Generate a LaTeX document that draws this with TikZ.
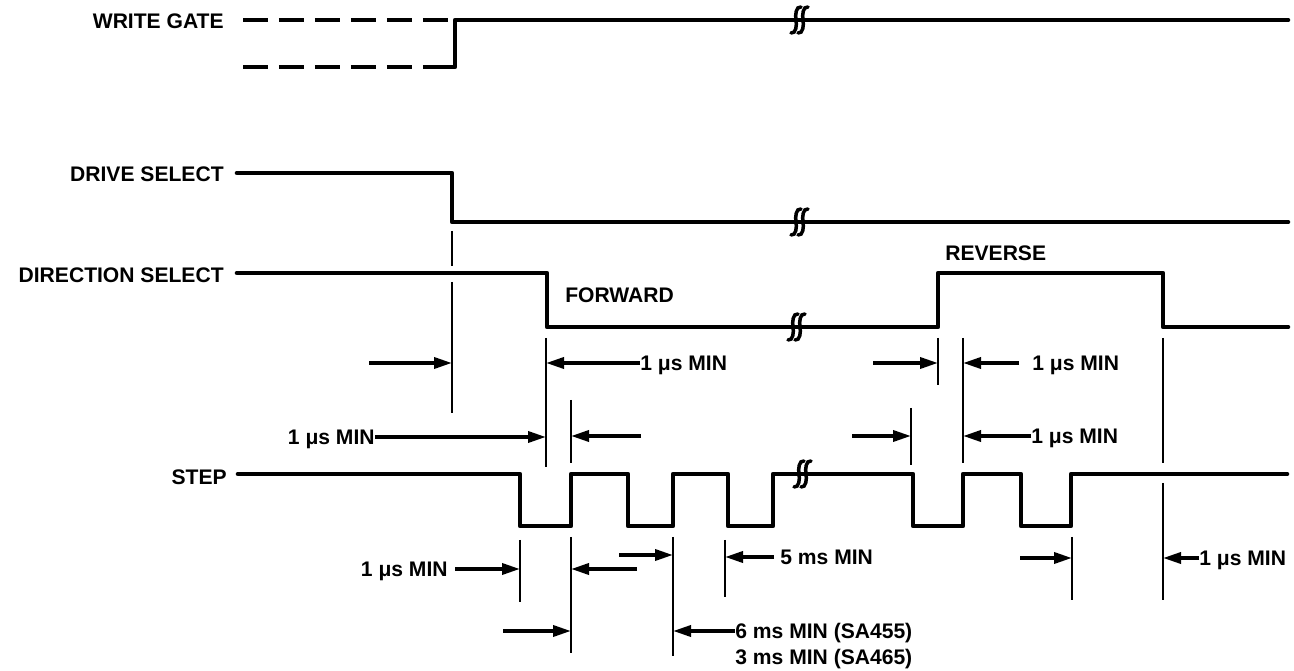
\documentclass[tikz,border=0pt]{standalone}
\usepackage{fontspec}
\setmainfont{Liberation Sans}
\usetikzlibrary{arrows.meta, positioning, calc}

\begin{document}
\begin{tikzpicture}[
		x=0.02cm, y=-0.02cm,
		font=\fontsize{12}{14}\selectfont\bfseries,
		wave/.style={line width=2.6pt, line join=round, line cap=round},
		wgdash/.style={line width=2.6pt, dash pattern=on 0.5cm off 0.22cm},
		refline/.style={line width=1.2pt},
		dim/.style={line width=2pt, -{Triangle[length=3.6mm, width=2.2mm]}},
		lbl/.style={inner sep=0pt, text height=8.6pt, text depth=0pt},
		sigbreak/.pic={
			\draw[line width=2pt, line cap=round] (1,-13) .. controls (-4,-14) and (-5,-5) .. (-4,0) .. controls (-3,5) and (-4,14) .. (-9,13);
			\draw[line width=2pt, line cap=round] (8,-13) .. controls (3,-14) and (2,-5) .. (3,0) .. controls (4,5) and (3,14) .. (-2,13);
		}
		]
		\useasboundingbox (0,0) rectangle (1294,671);
		
		% 1. Signal names
		\node[lbl, anchor=east] (wgname) at (224,21) {WRITE GATE};
		\node[lbl, anchor=east] (dsname) at (224,174) {DRIVE SELECT};
		\node[lbl, anchor=east] (dirname) at (224,275) {DIRECTION SELECT};
		\node[lbl, anchor=east] (stepname) at (227,477) {STEP};
		
		% 2. Waveforms
		\draw[wgdash] (243,20) -- (452,20);
		\draw[wgdash] (243,67) -- (449,67);
		\draw[wave] (447,67) -- (455,67) -- (455,20) -- (1288,20);
		\draw[wave] (237,173) -- (452,173) -- (452,222) -- (1288,222);
		\draw[wave] (237,273) -- (547,273) -- (547,327) -- (938,327) -- (938,273)
		-- (1163,273) -- (1163,327) -- (1288,327);
		\draw[wave] (238,474) -- (520,474) -- (520,526) -- (571,526) -- (571,474)
		-- (628,474) -- (628,526) -- (673,526) -- (673,474) -- (728,474)
		-- (728,526) -- (773,526) -- (773,474) -- (913,474) -- (913,526)
		-- (963,526) -- (963,474) -- (1021,474) -- (1021,526) -- (1071,526)
		-- (1071,474) -- (1287,474);
		\pic at (800,20) {sigbreak};
		\pic at (800,222) {sigbreak};
		\pic at (797,327) {sigbreak};
		\pic at (803,474) {sigbreak};
		
		\node[lbl, anchor=west] (fwd) at (565,295) {FORWARD};
		\node[lbl, anchor=west] (rev) at (945,253) {REVERSE};
		
		% 3. Reference lines
		\draw[refline] (452,231) -- (452,266) (452,282) -- (452,413);
		\draw[refline] (546,338) -- (546,467);
		\draw[refline] (571,400) -- (571,463);
		\draw[refline] (938,338) -- (938,385);
		\draw[refline] (963,338) -- (963,463);
		\draw[refline] (911,408) -- (911,465);
		\draw[refline] (1163,338) -- (1163,463) (1163,483) -- (1163,600);
		\draw[refline] (520,540) -- (520,602);
		\draw[refline] (571,537) -- (571,653);
		\draw[refline] (673,537) -- (673,656);
		\draw[refline] (725,540) -- (725,597);
		\draw[refline] (1072,537) -- (1072,600);
		
		\coordinate (t1) at (452,0);
		\coordinate (t2) at (546,0);
		\coordinate (t3) at (571,0);
		\coordinate (t4) at (938,0);
		\coordinate (t5) at (963,0);
		\coordinate (t6) at (911,0);
		\coordinate (t7) at (1163,0);
		\coordinate (t8) at (520,0);
		\coordinate (t10) at (673,0);
		\coordinate (t11) at (725,0);
		\coordinate (t12) at (1072,0);
		
		% 4. Timing labels
		\node[lbl, anchor=west] (dirmin) at (640,363) {1 μs MIN};
		\node[lbl, anchor=east] (dsmin) at (375,437) {1 μs MIN};
		\node[lbl, anchor=west] (revmin) at (1032,363) {1 μs MIN};
		\node[lbl, anchor=west] (stepmin) at (1031,436) {1 μs MIN};
		\node[lbl, anchor=east] (pulsemin) at (448,569) {1 μs MIN};
		\node[lbl, anchor=west] (ratemin) at (780,557) {5 ms MIN};
		\node[lbl, anchor=west] (sa455) at (735,631) {6 ms MIN (SA455)};
		\node[lbl, below right=0.2cm and 0cm of sa455.south west] (sa465) {3 ms MIN (SA465)};
		\node[lbl, anchor=west] (endmin) at (1199,558) {1 μs MIN};
		
		% 5. Arrows
		\coordinate (a1) at (369,363);
		\coordinate (a4) at (641,436);
		\coordinate (a5) at (873,363);
		\coordinate (a6) at (1019,363);
		\coordinate (a7) at (852,436);
		\coordinate (a9) at (455,569);
		\coordinate (a10) at (637,569);
		\coordinate (a11) at (619,555);
		\coordinate (a12) at (774,557);
		\coordinate (a13) at (503,631);
		\coordinate (a15) at (1020,558);
		
		\draw[dim] (a1) -- (t1 |- a1);
		\draw[dim] (dirmin.west) -- (t2 |- dirmin.west);
		\draw[dim] (dsmin.east) -- (t2 |- dsmin.east);
		\draw[dim] (a4) -- (t3 |- a4);
		\draw[dim] (a5) -- (t4 |- a5);
		\draw[dim] (a6) -- (t5 |- a6);
		\draw[dim] (a7) -- (t6 |- a7);
		\draw[dim] (stepmin.west) -- (t5 |- stepmin.west);
		\draw[dim] (a9) -- (t8 |- a9);
		\draw[dim] (a10) -- (t3 |- a10);
		\draw[dim] (a11) -- (t10 |- a11);
		\draw[dim] (a12) -- (t11 |- a12);
		\draw[dim] (a13) -- (t3 |- a13);
		\draw[dim] (sa455.west) -- (t10 |- sa455.west);
		\draw[dim] (a15) -- (t12 |- a15);
		\draw[dim] (endmin.west) -- (t7 |- endmin.west);
		
	\end{tikzpicture}
\end{document}
